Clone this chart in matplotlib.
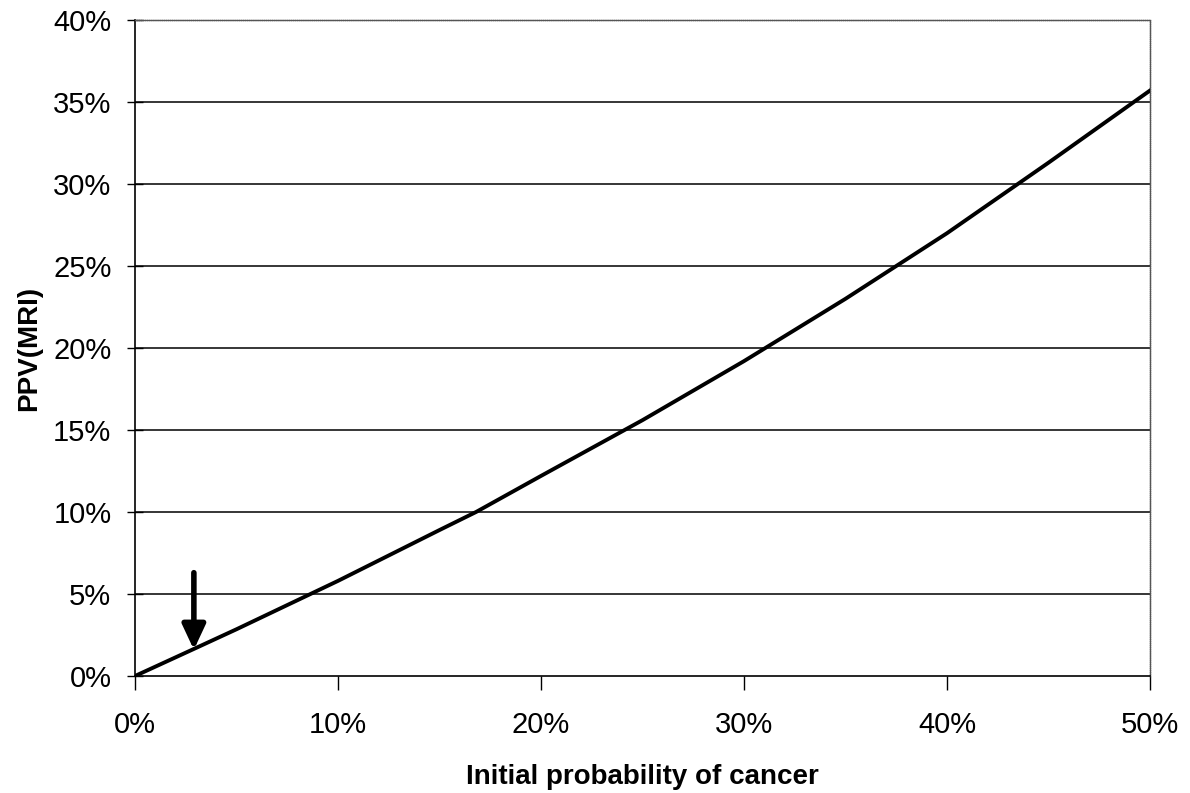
import matplotlib
matplotlib.use("Agg")
import matplotlib.pyplot as plt
from matplotlib.ticker import FuncFormatter

# Data (percent)
initial_prob = [0, 2.9, 5, 10, 15, 16.8, 20, 25, 30, 35, 40, 45, 50]
ppv_mri = [0, 1.65, 2.85, 5.8, 8.9, 10.0, 12.2, 15.6, 19.2, 23.0, 27.0, 31.3, 35.7]
arrow_x = 2.9
arrow_from = 6.3
arrow_to = 1.6

x_ticks = [0, 10, 20, 30, 40, 50]
y_ticks = [0, 5, 10, 15, 20, 25, 30, 35, 40]

plt.rcParams['font.family'] = ['Liberation Sans', 'DejaVu Sans']

fig = plt.figure(figsize=(11.9, 7.93), dpi=100)
ax = fig.add_axes([135/1190, 1-676/793, (1150-135)/1190, (676-20)/793])

for yv in y_ticks[1:-1]:
    ax.axhline(yv, color='black', linewidth=1.1, zorder=1)

ax.plot(initial_prob, ppv_mri, color='black', linewidth=2.8, zorder=3)

ax.annotate('', xy=(arrow_x, arrow_to), xytext=(arrow_x, arrow_from),
            arrowprops=dict(arrowstyle='-|>,head_width=0.7,head_length=1.5',
                            color='black', linewidth=4.0, shrinkA=0, shrinkB=0),
            zorder=4)

ax.set_xlim(0, 50)
ax.set_ylim(0, 40)
ax.set_xticks(x_ticks)
ax.set_yticks(y_ticks)
fmt = FuncFormatter(lambda v, p: f"{int(round(v))}%")
ax.xaxis.set_major_formatter(fmt)
ax.yaxis.set_major_formatter(fmt)
ax.tick_params(axis='x', direction='out', length=10, width=1, labelsize=21, pad=15)
ax.tick_params(axis='y', direction='inout', length=12, width=1, labelsize=21, pad=11)

for side in ['left', 'bottom']:
    ax.spines[side].set_color('black')
    ax.spines[side].set_linewidth(1.2)
for side in ['top', 'right']:
    ax.spines[side].set_color('#555555')
    ax.spines[side].set_linewidth(1.0)
    ax.spines[side].set_linestyle((0, (1, 0.5)))

ax.set_xlabel('Initial probability of cancer', fontsize=20, fontweight='bold', labelpad=18)
ax.set_ylabel('PPV(MRI)', fontsize=20, fontweight='bold', labelpad=8)

fig.savefig('out.png', dpi=100)
